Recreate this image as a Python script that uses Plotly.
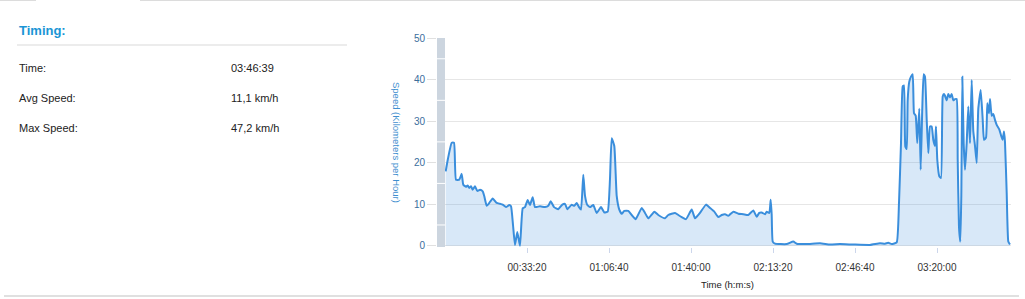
import plotly.graph_objects as go

# ---- data (seconds since start, km/h) ----
time_s = [17, 73, 163, 220, 268, 349, 407, 446, 512, 554, 593, 634, 676, 732, 788, 854, 920, 959,
          1017, 1080, 1163, 1261, 1341, 1407, 1488, 1568, 1610, 1659, 1707, 1763, 1829, 1895, 1951,
          2017, 2073, 2139, 2195, 2317, 2439, 2520, 2578, 2659, 2763, 2861, 2927, 2983, 3090, 3154,
          3212, 3268, 3317, 3373, 3415, 3471, 3537, 3617, 3700, 3805, 3885, 3968, 4024, 4066, 4129,
          4188, 4251, 4310, 4373, 4471, 4554, 4651, 4798, 4878, 4958, 5105, 5202, 5366, 5446, 5610,
          5690, 5773, 5878, 6017, 6098, 6219, 6366, 6463, 6568, 6666, 6749, 6829, 6910, 7032, 7154,
          7275, 7397, 7519, 7602, 7666, 7724, 7805, 7846, 7910, 7944, 7968, 7993, 8049, 8334, 8495,
          8578, 8822, 9146, 9390, 9634, 9951, 10366, 10610, 10732, 10812, 10895, 11017, 11073, 11122,
          11163, 11195, 11227, 11261, 11285, 11324, 11366, 11407, 11439, 11480, 11519, 11568, 11602,
          11641, 11675, 11707, 11749, 11788, 11829, 11870, 11909, 11951, 11975, 12007, 12056, 12097,
          12139, 12170, 12195, 12236, 12276, 12317, 12358, 12397, 12439, 12480, 12505, 12536, 12568,
          12593, 12617, 12651, 12683, 12724, 12763, 12805, 12846, 12885, 12927, 12968, 13007, 13066,
          13115, 13146, 13195, 13227, 13268, 13293, 13334, 13373, 13414, 13456, 13519, 13561, 13602,
          13634, 13658, 13700, 13739, 13780]
speed_kmh = [17.9, 21.0, 24.8, 24.8, 15.9, 15.9, 17.3, 14.7, 14.2, 14.5, 13.9, 14.3, 13.5, 14.3, 13.2,
             13.5, 13.1, 11.9, 9.6, 10.3, 11.4, 10.3, 10.1, 9.9, 9.3, 9.8, 9.5, 5.0, 0.2, 3.3, 0.0, 9.0,
             9.3, 11.0, 9.8, 11.7, 9.3, 9.5, 9.3, 9.6, 10.7, 9.3, 8.8, 9.9, 10.1, 8.8, 9.9, 9.6, 10.3,
             9.3, 8.7, 17.1, 12.0, 9.8, 9.3, 9.8, 7.9, 9.3, 8.0, 8.2, 16.0, 25.9, 24.0, 12.0, 8.7, 7.7,
             8.4, 8.4, 7.4, 6.4, 9.1, 7.9, 6.6, 8.2, 7.4, 6.6, 7.4, 7.9, 7.4, 6.9, 6.4, 8.7, 6.6, 7.9,
             9.9, 9.1, 8.2, 6.9, 7.4, 7.6, 7.2, 8.2, 7.7, 7.6, 7.4, 8.5, 7.0, 7.9, 8.0, 7.6, 8.2, 7.9,
             11.1, 7.5, 1.0, 0.5, 0.4, 1.0, 0.5, 0.4, 0.6, 0.3, 0.4, 0.3, 0.2, 0.6, 0.5, 0.7, 0.4, 0.8,
             10.3, 24.7, 38.3, 38.6, 23.9, 23.3, 35.0, 39.5, 40.7, 41.3, 31.9, 31.3, 24.7, 33.0, 18.3,
             33.0, 41.3, 40.7, 30.3, 22.3, 28.7, 28.7, 25.5, 24.0, 28.7, 20.7, 16.7, 16.3, 35.9, 36.5,
             36.1, 35.0, 36.5, 35.7, 36.5, 35.0, 35.3, 35.3, 20.7, 4.6, 1.0, 12.0, 40.7, 24.7, 18.3,
             24.7, 33.5, 24.7, 39.9, 27.6, 24.0, 19.9, 33.0, 37.5, 30.3, 25.5, 26.0, 34.3, 31.9, 35.3,
             31.3, 31.7, 30.3, 29.1, 28.0, 26.6, 25.5, 27.5, 25.0, 12.7, 1.0, 0.3]

tick_vals = [2000, 4000, 6000, 8000, 10000, 12000]
tick_text = ["00:33:20", "01:06:40", "01:40:00", "02:13:20", "02:46:40", "03:20:00"]

summary_labels = ["Time:", "Avg Speed:", "Max Speed:"]
summary_values = ["03:46:39", "11,1 km/h", "47,2 km/h"]

# ---- geometry ----
W, H = 1025, 299
L, R, T, B = 437, 14, 38, 52
PW, PH = W - L - R, H - T - B


def px(x):
    return (x - L) / PW


def py(y):
    return 1 - (y - T) / PH


FONT = "Liberation Sans, Arial, sans-serif"

fig = go.Figure()
fig.add_trace(go.Scatter(
    x=time_s, y=speed_kmh, mode="lines",
    line=dict(color="#3a8edc", width=2, shape="spline", smoothing=0.4),
    fill="tozeroy", fillcolor="rgba(58,142,220,0.2)",
    hoverinfo="skip", showlegend=False,
))

x_min = -195
x_max = x_min + (W - L - R) * 24.39

shapes = []
# gray band on the left of the plot area
shapes.append(dict(type="rect", xref="x", yref="paper", x0=x_min, x1=0, y0=0, y1=1,
                   fillcolor="#ccd5df", line=dict(width=0), layer="above"))
for v in [5, 15, 25, 35, 45]:
    shapes.append(dict(type="line", xref="x", yref="y", x0=x_min, x1=0, y0=v, y1=v,
                       line=dict(color="#ffffff", width=1), layer="above"))
# left panel separator
shapes.append(dict(type="line", xref="paper", yref="paper", x0=px(17), x1=px(347),
                   y0=py(45), y1=py(45), line=dict(color="#d9d9d9", width=1)))
# outer panel border
shapes.append(dict(type="line", xref="paper", yref="paper", x0=px(0), x1=px(36),
                   y0=py(0.5), y1=py(0.5), line=dict(color="#dcdcdc", width=1)))
shapes.append(dict(type="line", xref="paper", yref="paper", x0=px(140), x1=px(1025),
                   y0=py(0.5), y1=py(0.5), line=dict(color="#dcdcdc", width=1)))
shapes.append(dict(type="line", xref="paper", yref="paper", x0=px(4), x1=px(1019),
                   y0=py(296), y1=py(296), line=dict(color="#d6d6d6", width=1.5)))

annotations = []
annotations.append(dict(text="<b>Timing:</b>", xref="paper", yref="paper", x=px(17), y=py(30),
                        xanchor="left", yanchor="middle", showarrow=False,
                        font=dict(family=FONT, size=13, color="#1a95d5")))
for i, (lab, val) in enumerate(zip(summary_labels, summary_values)):
    yy = py(68 + 30 * i)
    annotations.append(dict(text=lab, xref="paper", yref="paper", x=px(17), y=yy,
                            xanchor="left", yanchor="middle", showarrow=False,
                            font=dict(family=FONT, size=11, color="#222222")))
    annotations.append(dict(text=val, xref="paper", yref="paper", x=px(229), y=yy,
                            xanchor="left", yanchor="middle", showarrow=False,
                            font=dict(family=FONT, size=11, color="#222222")))
annotations.append(dict(text="Speed (Kilometers per Hour)", xref="paper", yref="paper",
                        x=px(397), y=py(142), textangle=90, xanchor="center", yanchor="middle",
                        showarrow=False, font=dict(family=FONT, size=9.5, color="#3f8fcf")))
annotations.append(dict(text="Time (h:m:s)", xref="paper", yref="paper",
                        x=px(727), y=py(284), xanchor="center", yanchor="middle",
                        showarrow=False, font=dict(family=FONT, size=9.5, color="#222222")))

fig.update_layout(
    width=W, height=H,
    margin=dict(l=L, r=R, t=T, b=B, pad=0),
    paper_bgcolor="#ffffff", plot_bgcolor="#ffffff",
    shapes=shapes, annotations=annotations,
    xaxis=dict(range=[x_min, x_max], tickvals=tick_vals, ticktext=tick_text,
               showgrid=False, zeroline=False, showline=False,
               ticks="outside", ticklen=5, tickcolor="#ccd6eb",
               ticklabelstandoff=6,
               tickfont=dict(family=FONT, size=10, color="#333333")),
    yaxis=dict(range=[-0.3, 50], tickvals=[0, 10, 20, 30, 40, 50],
               showgrid=True, gridcolor="#e6e6e6", gridwidth=1, zeroline=False,
               showline=False, ticks="outside", ticklen=9, tickcolor="#e0e0e0",
               tickfont=dict(family=FONT, size=10, color="#3b6e9c")),
)

fig.write_html("out.html")
